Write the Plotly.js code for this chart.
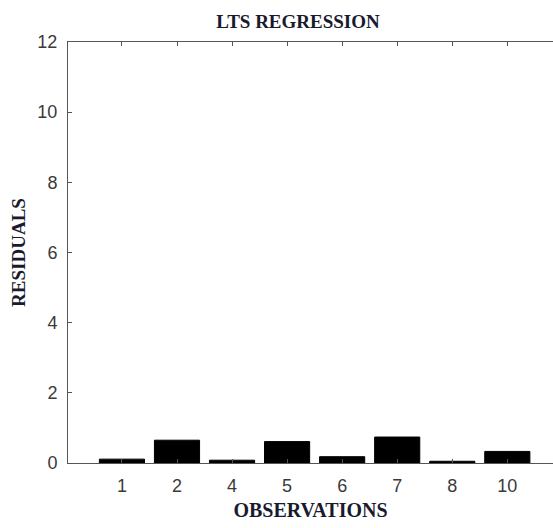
<!DOCTYPE html>
<html>
<head>
<meta charset="utf-8">
<script src="https://cdn.plot.ly/plotly-3.0.1.min.js"></script>
<style>html,body{margin:0;padding:0;background:#fff;}#chart{width:553px;height:528px;}</style>
</head>
<body>
<div id="chart"></div>
<script>
const observations = ["1", "2", "4", "5", "6", "7", "8", "10"];
const residuals = [0.11, 0.65, 0.08, 0.61, 0.18, 0.74, 0.05, 0.33];
const yTicks = [0, 2, 4, 6, 8, 10, 12];

const serif = "Liberation Serif, Times New Roman, serif";
const sans = "Liberation Sans, Arial, sans-serif";

const trace = {
  type: "bar",
  x: observations,
  y: residuals,
  width: 0.82,
  marker: {color: "#000000", line: {color: "#000000", width: 1}},
  hoverinfo: "x+y"
};

const layout = {
  width: 553,
  height: 528,
  margin: {l: 68, r: 0, t: 42, b: 65, pad: 0},
  paper_bgcolor: "#ffffff",
  plot_bgcolor: "#ffffff",
  showlegend: false,
  title: {
    text: "<b>LTS REGRESSION</b>",
    font: {family: serif, size: 19, color: "#1a1a2e"},
    x: 298 / 553, xref: "container", xanchor: "center",
    y: 1 - 21 / 528, yref: "container", yanchor: "middle"
  },
  xaxis: {
    type: "category",
    categoryorder: "array",
    categoryarray: observations,
    range: [-0.98, 7.83],
    showline: true, linecolor: "#555555", linewidth: 1, mirror: "ticks",
    ticks: "inside", ticklen: 4, tickcolor: "#555555", tickwidth: 1,
    showgrid: false, zeroline: false,
    tickfont: {family: sans, size: 18, color: "#3a3a3a"},
    ticklabelstandoff: 6,
    title: {text: "<b>OBSERVATIONS</b>", font: {family: serif, size: 20, color: "#1a1a2e"}, standoff: 8}
  },
  yaxis: {
    range: [0, 12],
    tickvals: yTicks,
    ticktext: yTicks.map(String),
    showline: true, linecolor: "#555555", linewidth: 1,
    ticks: "inside", ticklen: 4, tickcolor: "#555555", tickwidth: 1,
    showgrid: false, zeroline: false,
    tickfont: {family: sans, size: 18, color: "#3a3a3a"},
    ticklabelstandoff: 6,
    title: {text: "<b>RESIDUALS</b>", font: {family: serif, size: 19, color: "#1a1a2e"}, standoff: 6}
  }
};

Plotly.newPlot("chart", [trace], layout, {displayModeBar: false, staticPlot: true});
</script>
</body>
</html>
